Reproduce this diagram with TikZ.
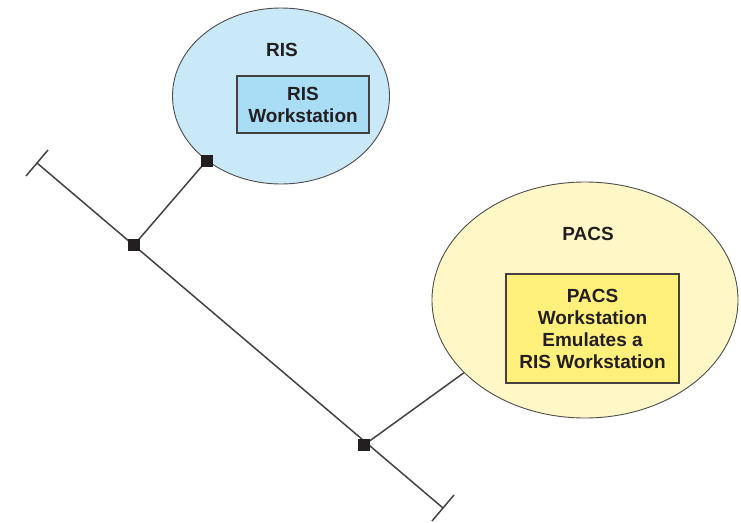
\documentclass[tikz,border=0pt]{standalone}
\usepackage{fontspec}
\setmainfont{Liberation Sans}
\usetikzlibrary{shapes.geometric}
\definecolor{risbg}{HTML}{C9E9F9}
\definecolor{risbox}{HTML}{A9DDF6}
\definecolor{pacsbg}{HTML}{FFF8C6}
\definecolor{pacsbox}{HTML}{FFF07C}
\definecolor{ink}{HTML}{231F20}
\begin{document}
\begin{tikzpicture}[x=1pt,y=-1pt,
  zonebubble/.style={ellipse, draw=ink!80, line width=0.9pt, inner sep=0pt},
  stationbox/.style={draw=ink!85, line width=1.1pt, inner sep=0pt, align=center,
    font=\bfseries\fontsize{19}{22}\selectfont, text=ink},
  zonelabel/.style={font=\bfseries\fontsize{19}{22}\selectfont, text=ink},
  wire/.style={draw=ink!85, line width=1.5pt},
  junction/.style={rectangle, fill=ink, minimum size=12pt, inner sep=0pt}]
\useasboundingbox (0,0) rectangle (741,522);

% network zones
\node[zonebubble, fill=risbg, minimum width=217pt, minimum height=176pt] (ris) at (281,96) {};
\node[zonebubble, fill=pacsbg, minimum width=306pt, minimum height=236pt] (pacs) at (585,300) {};

\node[zonelabel] (rislabel) at (282,50) {RIS};
\node[stationbox, fill=risbox, minimum width=132pt, minimum height=57pt] (risws) at (303,104.5)
  {RIS\\Workstation};

\node[zonelabel] (pacslabel) at (588,234) {PACS};
\node[stationbox, fill=pacsbox, minimum width=173pt, minimum height=109pt] (pacsws) at (592.5,328.5)
  {PACS\\Workstation\\Emulates a\\RIS Workstation};

% backbone bus
\coordinate (e1) at (37,163);
\coordinate (e2) at (443,508);
\coordinate (j1) at (134,245);
\coordinate (j2) at (364,445);
\coordinate (t1) at (ris.-139);
\coordinate (t2) at (pacs.-149);

\draw[wire] (e1) -- (e2);
\draw[wire] ([shift={(-11,13)}]e1) -- ([shift={(11,-13)}]e1);
\draw[wire] ([shift={(-11,13)}]e2) -- ([shift={(11,-13)}]e2);
\draw[wire] (j1) -- (t1);
\draw[wire] (j2) -- (t2);

\node[junction] (n1) at (j1) {};
\node[junction] (n2) at (j2) {};
\node[junction] (n3) at (t1) {};
\end{tikzpicture}
\end{document}
